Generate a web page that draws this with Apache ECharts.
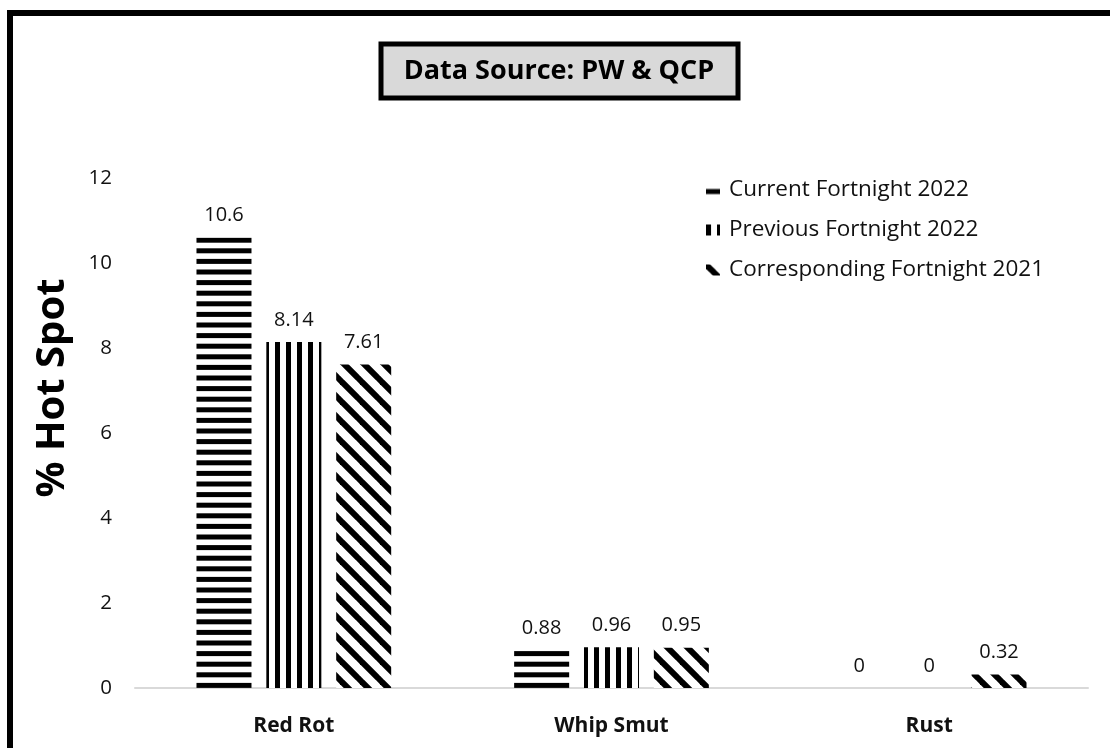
<!DOCTYPE html>
<html>
<head>
<meta charset="utf-8">
<script src="https://cdn.jsdelivr.net/npm/echarts@6/dist/echarts.min.js"></script>
<style>html,body{margin:0;padding:0;background:#fff;}#c{width:1110px;height:748px;}</style>
</head>
<body>
<div id="c"></div>
<script>
const categories = ['Red Rot', 'Whip Smut', 'Rust'];
const seriesNames = ['Current Fortnight 2022', 'Previous Fortnight 2022', 'Corresponding Fortnight 2021'];
const currentFortnight2022 = [10.6, 0.88, 0];
const previousFortnight2022 = [8.14, 0.96, 0];
const correspondingFortnight2021 = [7.61, 0.95, 0.32];
const yTicks = [0, 2, 4, 6, 8, 10, 12];
const titleText = 'Data Source: PW & QCP';
const yAxisName = '% Hot Spot';

function horizPattern() {
  const c = document.createElement('canvas');
  c.width = 8; c.height = 53;
  const g = c.getContext('2d');
  g.fillStyle = '#fff'; g.fillRect(0, 0, 8, 53);
  g.fillStyle = '#000';
  for (let i = 0; i < 5; i++) g.fillRect(0, 4.5 + i * 10.6, 8, 5);
  return c;
}
function vertPattern() {
  const c = document.createElement('canvas');
  c.width = 11; c.height = 8;
  const g = c.getContext('2d');
  g.fillStyle = '#fff'; g.fillRect(0, 0, 11, 8);
  g.fillStyle = '#000';
  g.fillRect(0, 0, 5, 8);
  return c;
}
function diagPattern() {
  const c = document.createElement('canvas');
  c.width = 20; c.height = 20;
  const g = c.getContext('2d');
  g.fillStyle = '#fff'; g.fillRect(0, 0, 20, 20);
  g.strokeStyle = '#000'; g.lineWidth = 6;
  for (let x0 = -20; x0 <= 20; x0 += 20) {
    g.beginPath(); g.moveTo(x0 - 2, -2); g.lineTo(x0 + 22, 22); g.stroke();
  }
  return c;
}
const patterns = [horizPattern(), vertPattern(), diagPattern()];
const dataSets = [currentFortnight2022, previousFortnight2022, correspondingFortnight2021];

const FONT = 'Open Sans';
const chart = echarts.init(document.getElementById('c'));
chart.setOption({
  animation: false,
  backgroundColor: '#fff',
  grid: { left: 135, right: 22, top: 178, bottom: 60, containLabel: false },
  legend: {
    orient: 'vertical',
    left: 701, top: 173,
    itemWidth: 14, itemHeight: 11,
    itemGap: 16,
    icon: 'rect',
    textStyle: { fontFamily: FONT, fontSize: 22.5, color: '#111', lineHeight: 24, padding: [0, 0, 0, 4] },
    data: seriesNames
  },
  xAxis: {
    type: 'category',
    data: categories,
    axisLine: { lineStyle: { color: '#d9d9d9', width: 2 } },
    axisTick: { show: false },
    axisLabel: { fontFamily: FONT, fontWeight: 'bold', fontSize: 21, color: '#111', margin: 28 }
  },
  yAxis: {
    type: 'value',
    min: 0, max: 12, interval: 2,
    name: yAxisName,
    nameLocation: 'middle',
    nameGap: 62,
    nameTextStyle: { fontFamily: FONT, fontWeight: 'bold', fontSize: 40, color: '#000', padding: [0, 0, 0, 90] },
    axisLine: { show: false },
    axisTick: { show: false },
    splitLine: { show: false },
    axisLabel: { fontFamily: FONT, fontSize: 20.5, color: '#111', margin: 23,
      formatter: v => yTicks.includes(v) ? String(v) : '' }
  },
  series: seriesNames.map((name, i) => ({
    name: name,
    type: 'bar',
    data: dataSets[i],
    barWidth: 55,
    barGap: '27%',
    itemStyle: { color: { image: patterns[i], repeat: 'repeat' } },
    label: { show: true, position: 'top', distance: 12, fontFamily: FONT, fontSize: 20, color: '#111' }
  })),
  graphic: [
    { type: 'rect', z: 100, silent: true,
      shape: { x: 10, y: 13, width: 1200, height: 900 },
      style: { fill: 'none', stroke: '#000', lineWidth: 6 } },
    { type: 'rect', z: 100,
      shape: { x: 381, y: 44, width: 357, height: 54 },
      style: { fill: '#d9d9d9', stroke: '#000', lineWidth: 5 } },
    { type: 'text', z: 101,
      x: 559, y: 71,
      style: { text: titleText, fontFamily: FONT, fontWeight: 'bold', fontSize: 27, fill: '#000',
        textAlign: 'center', textVerticalAlign: 'middle' } }
  ]
});
</script>
</body>
</html>
